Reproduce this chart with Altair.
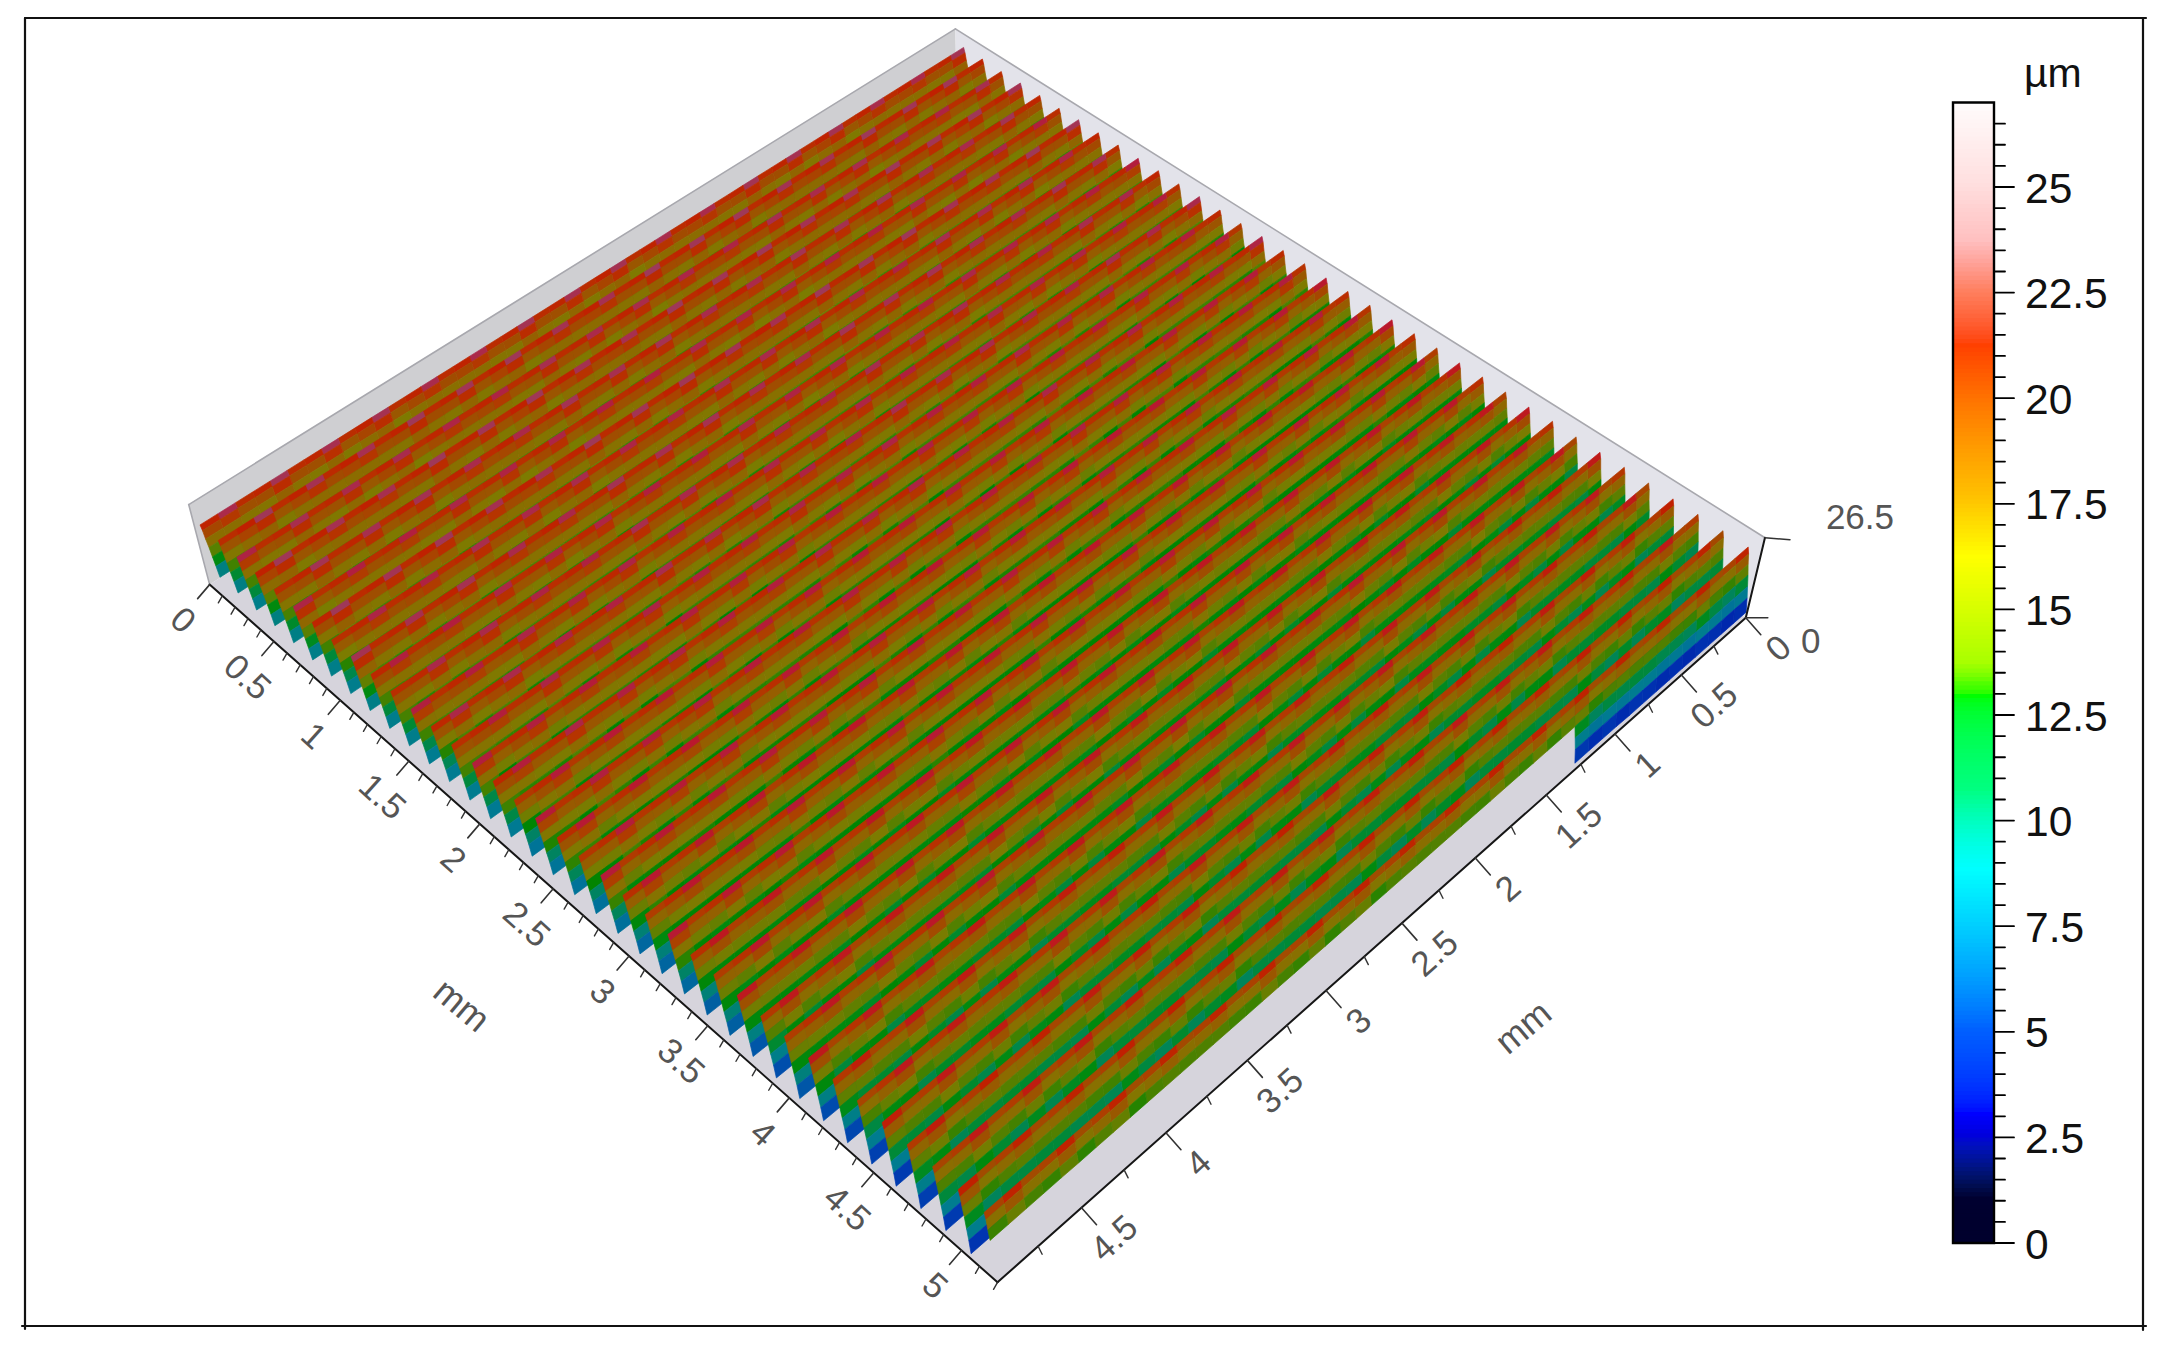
import numpy as np
import pandas as pd
import altair as alt

W, H = 2140, 1330
XS = alt.Scale(domain=[8, 8 + W], range=[0, W], nice=False, zero=False)
YS = alt.Scale(domain=[8, 8 + H], range=[0, H], nice=False, zero=False)

# ---------- values ----------
X_END_MM = 5.2
Y_END_MM = 4.98
Z_TOP_UM = 26.5
x_major_mm = [0, 0.5, 1, 1.5, 2, 2.5, 3, 3.5, 4, 4.5, 5]
x_major_txt = ["0", "0.5", "1", "1.5", "2", "2.5", "3", "3.5", "4", "4.5", "5"]
y_major_mm = [0, 0.5, 1, 1.5, 2, 2.5, 3, 3.5, 4, 4.5]
y_major_txt = ["0", "0.5", "1", "1.5", "2", "2.5", "3", "3.5", "4", "4.5"]
bar_major_um = [0, 2.5, 5, 7.5, 10, 12.5, 15, 17.5, 20, 22.5, 25]
bar_major_txt = ["0", "2.5", "5", "7.5", "10", "12.5", "15", "17.5", "20", "22.5", "25"]

# crest height and groove depth of each of the 37 ridges, in µm
ridge_crest_um = [22.1, 22.2, 22.0, 22.2, 22.1, 21.9, 22.2, 22.0, 22.1, 21.9, 22.0, 21.9, 22.0,
                  21.9, 21.8, 21.9, 21.7, 21.8, 21.6, 21.7, 21.7, 21.5, 21.6, 21.6, 21.4, 21.5,
                  21.4, 21.3, 21.5, 21.3, 21.2, 21.3, 21.2, 21.1, 21.2, 21.0, 20.9]
ridge_depth_um = [14.6, 14.6, 14.7, 14.7, 14.8, 14.8, 14.9, 14.9, 15.0, 15.0, 15.1, 15.2, 15.3,
                  15.4, 15.5, 15.6, 15.7, 15.8, 16.0, 16.1, 16.3, 16.5, 16.7, 16.9, 17.1, 17.3,
                  17.5, 17.7, 17.9, 18.1, 18.3, 18.4, 18.5, 18.6, 18.7, 18.8, 18.9]
# extra depth along the ridges, from y = 0 to the front edge
row_depth_um = [0.3, 0.2, 0.0, 0.0, 0.1, 0.2, 0.3, 0.3, 0.4, 0.4, 0.3]
first_crest_mm = 0.06
last_crest_mm = 5.13
# one face of a groove: position across the period, and share of the depth
face_pos = [0, 0.07, 0.14, 0.22, 0.30, 0.38, 0.46]
face_drop = [0, 0.10, 0.26, 0.42, 0.60, 0.78, 1.0]
row_count = 50
ripple_crest_um = [1.2, -0.4, -1.0]
ripple_flank_um = [0.6, -0.4, 0.15, -0.6, 0.4]
notch_y_mm = 1.2

surf_z = [0, 2.5, 4, 6, 8, 10, 12, 13.2, 14.5, 16, 17.5, 19, 20.2, 21.2, 22.2, 23.2, 24.5, 27]
surf_col = ["#000020", "#0000a0", "#0030b0", "#0060a0", "#007c90", "#00806a", "#008a10", "#008400",
            "#508000", "#7c7c00", "#8e6800", "#a04c00", "#b83000", "#c02000", "#b02040", "#805068",
            "#807080", "#c0c0c0"]
bar_z = [0, 1, 2.5, 3, 5, 7.5, 8.8, 10.7, 12.9, 13.2, 13.7, 15, 16.2, 17.7, 20, 20.4, 21.2, 22.5, 23.7, 25, 27]
bar_col = ["#000000", "#000030", "#0000dc", "#0000ff", "#0060ff", "#00d0ff", "#00ffff", "#00ff80", "#00ff00",
           "#50ff00", "#a8ff00", "#d8ff00", "#ffff00", "#ffbe00", "#ff7000", "#ff6000", "#ff4000",
           "#ff8060", "#ffc0c0", "#ffdede", "#fffdfd"]

# camera calibration: (x mm, y mm, z µm) -> page pixel
cal = [(0, Y_END_MM, 0, 210, 585), (0.5, Y_END_MM, 0, 272, 640), (1, Y_END_MM, 0, 342, 702),
       (5, Y_END_MM, 0, 963, 1248), (X_END_MM, Y_END_MM, 0, 998, 1278),
       (X_END_MM, 0, 0, 1747, 615), (X_END_MM, 0.5, 0, 1680, 673), (X_END_MM, 2, 0, 1475, 860),
       (X_END_MM, 3, 0, 1325, 993), (X_END_MM, 4, 0, 1165, 1137), (X_END_MM, 4.5, 0, 1082, 1210),
       (0, Y_END_MM, Z_TOP_UM, 188, 503), (X_END_MM, 0, Z_TOP_UM, 1765, 538), (0, 0, Z_TOP_UM, 956, 30)]
A, b = [], []
for X, Y, Z, u, v in cal:
    A.append([X, Y, Z, 1, 0, 0, 0, 0, -u * X, -u * Y, -u * Z]); b.append(u)
    A.append([0, 0, 0, 0, X, Y, Z, 1, -v * X, -v * Y, -v * Z]); b.append(v)
cam = np.linalg.lstsq(np.array(A, float), np.array(b, float), rcond=None)[0]


def project(x, y, z):
    x, y, z = np.asarray(x, float), np.asarray(y, float), np.asarray(z, float)
    w = cam[8] * x + cam[9] * y + cam[10] * z + 1
    return (cam[0] * x + cam[1] * y + cam[2] * z + cam[3]) / w, (cam[4] * x + cam[5] * y + cam[6] * z + cam[7]) / w


def poly(corners, **props):
    pts = [[round(float(a), 1) for a in project(*c)] for c in corners]
    pts.append(pts[0])
    return {"type": "Feature", "properties": props, "geometry": {"type": "Polygon", "coordinates": [pts]}}


# ---------- surface, painted from far to near ----------
K = len(ridge_crest_um)
period = (last_crest_mm - first_crest_mm) / (K - 1)
row_edges = np.linspace(0, Y_END_MM, row_count + 1)
features = []
for k in range(K):
    x0 = first_crest_mm + k * period
    top = ridge_crest_um[k]
    for r in range(row_count):
        y0, y1 = row_edges[r], row_edges[r + 1]
        front = r >= row_count - 2
        dep = ridge_depth_um[k] + row_depth_um[r * len(row_depth_um) // row_count]
        dep1 = ridge_depth_um[k] + row_depth_um[min(r + 1, row_count - 1) * len(row_depth_um) // row_count]
        rip = ripple_crest_um[(r + k) % len(ripple_crest_um)]
        fl = ripple_flank_um[(r + 2 * k) % len(ripple_flank_um)]
        nseg = len(face_pos) - 1
        if y0 > notch_y_mm and k == K - 1:
            nseg = 3
        elif not front:
            if y0 > notch_y_mm and k == K - 2:
                nseg = 4
            elif k < K - 2:
                nseg = 5
        for s in range(nseg):
            d0, d1 = face_drop[s], face_drop[s + 1]
            mid = (d0 + d1) / 2
            shade = top - dep * mid + rip * (1 - mid) ** 2 + fl * mid * (1 - mid) * 3
            xa = x0 + face_pos[s] * period
            xb = x0 + face_pos[s + 1] * period
            features.append(poly([(xa, y0, top - dep * d0), (xb, y0, top - dep * d1),
                                  (xb, y1, top - dep1 * d1), (xa, y1, top - dep1 * d0)], z=round(shade, 2)))


def geo(feats, **mk):
    return alt.Chart(alt.Data(values=feats)).mark_geoshape(**mk).project(type="identity", scale=1, translate=[-8, -8])


X0, X1, Y1 = 0, X_END_MM, Y_END_MM
floor = geo([poly([(X0, 0, 0), (X1, 0, 0), (X1, Y1, 0), (X0, Y1, 0)])], fill="#d6d4dc", strokeWidth=0)
wall_l = geo([poly([(X0, 0, 0), (X0, 0, Z_TOP_UM), (X0, Y1, Z_TOP_UM), (X0, Y1, 0)])], fill="#cfcfd2", strokeWidth=0)
wall_r = geo([poly([(X0, 0, 0), (X0, 0, Z_TOP_UM), (X1, 0, Z_TOP_UM), (X1, 0, 0)])], fill="#e3e3ea", strokeWidth=0)

surface = geo(features, strokeWidth=0.7, strokeJoin="round").encode(
    fill=alt.Fill("properties.z:Q", scale=alt.Scale(domain=surf_z, range=surf_col, clamp=True), legend=None),
    stroke=alt.Stroke("properties.z:Q", scale=alt.Scale(domain=surf_z, range=surf_col, clamp=True), legend=None),
)


# ---------- helpers for lines and text ----------
def rules(rows, color, width):
    df = pd.DataFrame(rows, columns=["a", "b", "c", "d"])
    return alt.Chart(df).mark_rule(color=color, strokeWidth=width, strokeCap="round").encode(
        x=alt.X("a:Q", scale=XS, axis=None), y=alt.Y("b:Q", scale=YS, axis=None),
        x2=alt.X2("c:Q"), y2=alt.Y2("d:Q"))


def texts(rows, size, color, angle=0, align="center"):
    df = pd.DataFrame(rows, columns=["a", "b", "t"])
    return alt.Chart(df).mark_text(font="Liberation Sans", fontSize=size, color=color, angle=angle,
                                   align=align, baseline="middle").encode(
        x=alt.X("a:Q", scale=XS, axis=None), y=alt.Y("b:Q", scale=YS, axis=None), text="t:N")


def P(x, y, z=0):
    u, v = project(x, y, z)
    return float(u), float(v)


# box edges
a_, b_, c_ = P(X0, Y1), P(X1, Y1), P(X1, 0)
a_t, c_t, d_t = P(X0, Y1, Z_TOP_UM), P(X1, 0, Z_TOP_UM), P(X0, 0, Z_TOP_UM)
wall_edges = rules([(a_t[0], a_t[1], d_t[0], d_t[1]), (c_t[0], c_t[1], d_t[0], d_t[1]),
                    (a_[0], a_[1], a_t[0], a_t[1])], "#a8a8ae", 1.6)
axis_edges = rules([(a_[0], a_[1], b_[0], b_[1]), (c_[0], c_[1], b_[0], b_[1]),
                    (c_[0], c_[1], c_t[0], c_t[1])], "#161616", 2)

# 3D ticks
x_maj, x_min, y_maj, y_min = [], [], [], []
for v in x_major_mm:
    p = P(v, Y1); x_maj.append((p[0], p[1], p[0] - 12, p[1] + 14))
for i in range(int(X_END_MM * 10) + 1):
    if i % 5:
        p = P(i / 10, Y1); x_min.append((p[0], p[1], p[0] - 4, p[1] + 7))
for v in y_major_mm:
    p = P(X1, v); y_maj.append((p[0], p[1], p[0] + 15, p[1] + 17))
    p = P(X1, v + 0.25); y_min.append((p[0], p[1], p[0] + 4, p[1] + 8))
z_ticks = [(c_[0], c_[1], c_[0] + 22, c_[1]), (c_t[0], c_t[1], c_t[0] + 25, c_t[1] + 2)]
ticks3d = rules(x_maj + y_maj + z_ticks, "#333333", 1.6)
ticks3d_m = rules(x_min + y_min, "#333333", 1.4)

x_txt = texts([(P(v, Y1)[0] - 27, P(v, Y1)[1] + 36, t) for v, t in zip(x_major_mm, x_major_txt)], 35, "#555555", angle=42)
y_txt = texts([(P(X1, v)[0] + 33, P(X1, v)[1] + 31, t) for v, t in zip(y_major_mm, y_major_txt)], 35, "#555555", angle=318)
z_txt = texts([(c_[0] + 65, c_[1] + 24, "0"), (c_t[0] + 95, c_t[1] - 20, "26.5")], 35, "#555555")
mm_l = texts([(461, 1006, "mm")], 36, "#555555", angle=40)
mm_r = texts([(1524, 1028, "mm")], 36, "#555555", angle=320)

# ---------- colour bar ----------
BAR_ZERO, BAR_PX = 1243.0, 42.24
BAR_L, BAR_R = 1953, 1994
BAR_MAX = 27.0


def by(v):
    return BAR_ZERO - BAR_PX * v


levels = [round(0.1 * i, 1) for i in range(270)]
bar_df = pd.DataFrame({"v": levels})
bar_df["y0"] = [by(v) for v in levels]
bar_df["y1"] = [by(v + 0.14) for v in levels]
bar_df["x0"] = BAR_L
bar_df["x1"] = BAR_R
bar = alt.Chart(bar_df).mark_rect().encode(
    x=alt.X("x0:Q", scale=XS, axis=None), x2="x1:Q",
    y=alt.Y("y0:Q", scale=YS, axis=None), y2="y1:Q",
    color=alt.Color("v:Q", scale=alt.Scale(domain=bar_z, range=bar_col), legend=None))
bar_box = alt.Chart(pd.DataFrame({"x0": [BAR_L], "x1": [BAR_R], "y0": [by(0)], "y1": [by(BAR_MAX)]})).mark_rect(
    filled=False, stroke="#000000", strokeWidth=2.4).encode(
    x=alt.X("x0:Q", scale=XS, axis=None), x2="x1:Q", y=alt.Y("y0:Q", scale=YS, axis=None), y2="y1:Q")
bar_maj = rules([(BAR_R, by(v), BAR_R + 20, by(v)) for v in bar_major_um], "#000000", 1.8)
bar_min = rules([(BAR_R, by(0.5 * i), BAR_R + 11, by(0.5 * i)) for i in range(1, 54) if i % 5], "#000000", 1.8)
bar_txt = texts([(2025, by(v) + 2.5, t) for v, t in zip(bar_major_um, bar_major_txt)], 42.5, "#111111", align="left")
unit_txt = texts([(2024, 75, "µm")], 41, "#111111", align="left")

# ---------- outer frame ----------
frame = rules([(25, 18, 2146, 18), (25, 18, 25, 1329), (2143, 18, 2143, 1330), (22, 1326, 2146, 1326)], "#111111", 2.2)

chart = alt.layer(
    wall_l, wall_r, floor, wall_edges, surface, axis_edges, ticks3d, ticks3d_m, x_txt, y_txt, z_txt, mm_l, mm_r,
    bar, bar_box, bar_maj, bar_min, bar_txt, unit_txt, frame,
).properties(width=W, height=H, padding=0, background="#ffffff").configure_view(stroke=None)

chart.save("out.html", embed_options={"renderer": "svg", "actions": False})
